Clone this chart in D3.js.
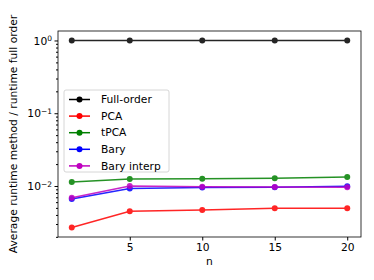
<!DOCTYPE html>
<html>
<head>
<meta charset="utf-8">
<script src="https://cdn.jsdelivr.net/npm/d3@7"></script>
<style>
  body { margin: 0; background: #fff; }
  text { font-family: "DejaVu Sans", sans-serif; }
</style>
</head>
<body>
<div id="chart"></div>
<script>
"use strict";

var nValues = [1, 5, 10, 15, 20];
var fullOrder = [1, 1, 1, 1, 1];
var pca = [0.00268, 0.00449, 0.00468, 0.00493, 0.00495];
var tpca = [0.01135, 0.01248, 0.0126, 0.0128, 0.0133];
var bary = [0.00663, 0.0092, 0.0095, 0.0096, 0.0099];
var baryInterp = [0.0069, 0.0100, 0.0098, 0.0097, 0.0096];
var xTicks = [5, 10, 15, 20];

var series = [
    { name: "Full-order", color: "#000000", values: fullOrder },
    { name: "PCA", color: "#ff0000", values: pca },
    { name: "tPCA", color: "#008000", values: tpca },
    { name: "Bary", color: "#0000ff", values: bary },
    { name: "Bary interp", color: "#bf00bf", values: baryInterp }
];

var width = 374, height = 280;
var margin = { left: 58, right: 13, top: 31, bottom: 43 };
var fs = 10.7;

var svg = d3.select("#chart").append("svg")
    .attr("width", width)
    .attr("height", height);

var x = d3.scaleLinear()
    .domain([0.05, 20.95])
    .range([margin.left, width - margin.right]);

var y = d3.scaleLog()
    .domain([0.00199, 1.35])
    .range([height - margin.bottom, margin.top]);

// axes
var xAxis = d3.axisBottom(x).tickValues(xTicks).tickSize(3.5).tickPadding(3);
svg.append("g")
    .attr("transform", "translate(0," + (height - margin.bottom) + ")")
    .call(xAxis)
    .call(function (g) {
        g.select(".domain").remove();
        g.selectAll("text").attr("font-size", fs).attr("fill", "#000");
    });

var majors = [0.01, 0.1, 1];
var minors = [];
[0.001, 0.01, 0.1].forEach(function (d) {
    for (var k = 2; k <= 9; k++) {
        var v = d * k;
        if (v >= y.domain()[0] && v <= y.domain()[1]) minors.push(v);
    }
});

var yAxis = d3.axisLeft(y).tickValues(majors).tickSize(3.5).tickPadding(3).tickFormat("");
var yg = svg.append("g")
    .attr("transform", "translate(" + margin.left + ",0)")
    .call(yAxis);
yg.select(".domain").remove();

svg.append("g")
    .attr("transform", "translate(" + margin.left + ",0)")
    .call(d3.axisLeft(y).tickValues(minors).tickSize(2).tickFormat(""))
    .call(function (g) { g.select(".domain").remove(); });

var expLabels = yg.selectAll(".tick").append("text")
    .attr("x", -6)
    .attr("dy", "0.35em")
    .attr("text-anchor", "end")
    .attr("fill", "#000")
    .attr("font-size", fs);
expLabels.each(function (d) {
    var t = d3.select(this);
    var e = Math.round(Math.log10(d));
    t.append("tspan").text("10");
    t.append("tspan")
        .attr("dy", "-0.45em")
        .attr("font-size", 7.5)
        .text(e < 0 ? "\u2212" + (-e) : e);
});

// frame
svg.append("rect")
    .attr("x", margin.left)
    .attr("y", margin.top)
    .attr("width", width - margin.left - margin.right)
    .attr("height", height - margin.top - margin.bottom)
    .attr("fill", "none")
    .attr("stroke", "#000")
    .attr("stroke-width", 0.8);

// lines
var line = d3.line()
    .x(function (d, i) { return x(nValues[i]); })
    .y(function (d) { return y(d); });

series.forEach(function (s) {
    var g = svg.append("g").attr("opacity", 0.85);
    g.append("path")
        .attr("d", line(s.values))
        .attr("fill", "none")
        .attr("stroke", s.color)
        .attr("stroke-width", 1.5);
    g.selectAll("circle")
        .data(s.values)
        .enter().append("circle")
        .attr("cx", function (d, i) { return x(nValues[i]); })
        .attr("cy", function (d) { return y(d); })
        .attr("r", 3)
        .attr("fill", s.color);
});

// axis labels
svg.append("text")
    .attr("x", x(10.5))
    .attr("y", 265)
    .attr("text-anchor", "middle")
    .attr("font-size", fs)
    .text("n");

svg.append("text")
    .attr("transform", "translate(17," + ((margin.top + height - margin.bottom) / 2) + ") rotate(-90)")
    .attr("text-anchor", "middle")
    .attr("font-size", fs)
    .text("Average runtime method / runtime full order");

// legend
var legend = svg.append("g").attr("transform", "translate(64,90)");
legend.append("rect")
    .attr("width", 105)
    .attr("height", 82)
    .attr("rx", 2)
    .attr("fill", "#fff")
    .attr("fill-opacity", 0.8)
    .attr("stroke", "#ccc")
    .attr("stroke-width", 0.8);

var items = legend.selectAll(".item")
    .data(series)
    .enter().append("g")
    .attr("transform", function (d, i) { return "translate(0," + (9.5 + i * 16.6) + ")"; });
items.append("line")
    .attr("x1", 5).attr("x2", 26)
    .attr("stroke", function (d) { return d.color; })
    .attr("stroke-width", 1.5);
items.append("circle")
    .attr("cx", 15.5)
    .attr("r", 3)
    .attr("fill", function (d) { return d.color; });
items.append("text")
    .attr("x", 37)
    .attr("dy", "0.35em")
    .attr("font-size", fs)
    .text(function (d) { return d.name; });
</script>
</body>
</html>
